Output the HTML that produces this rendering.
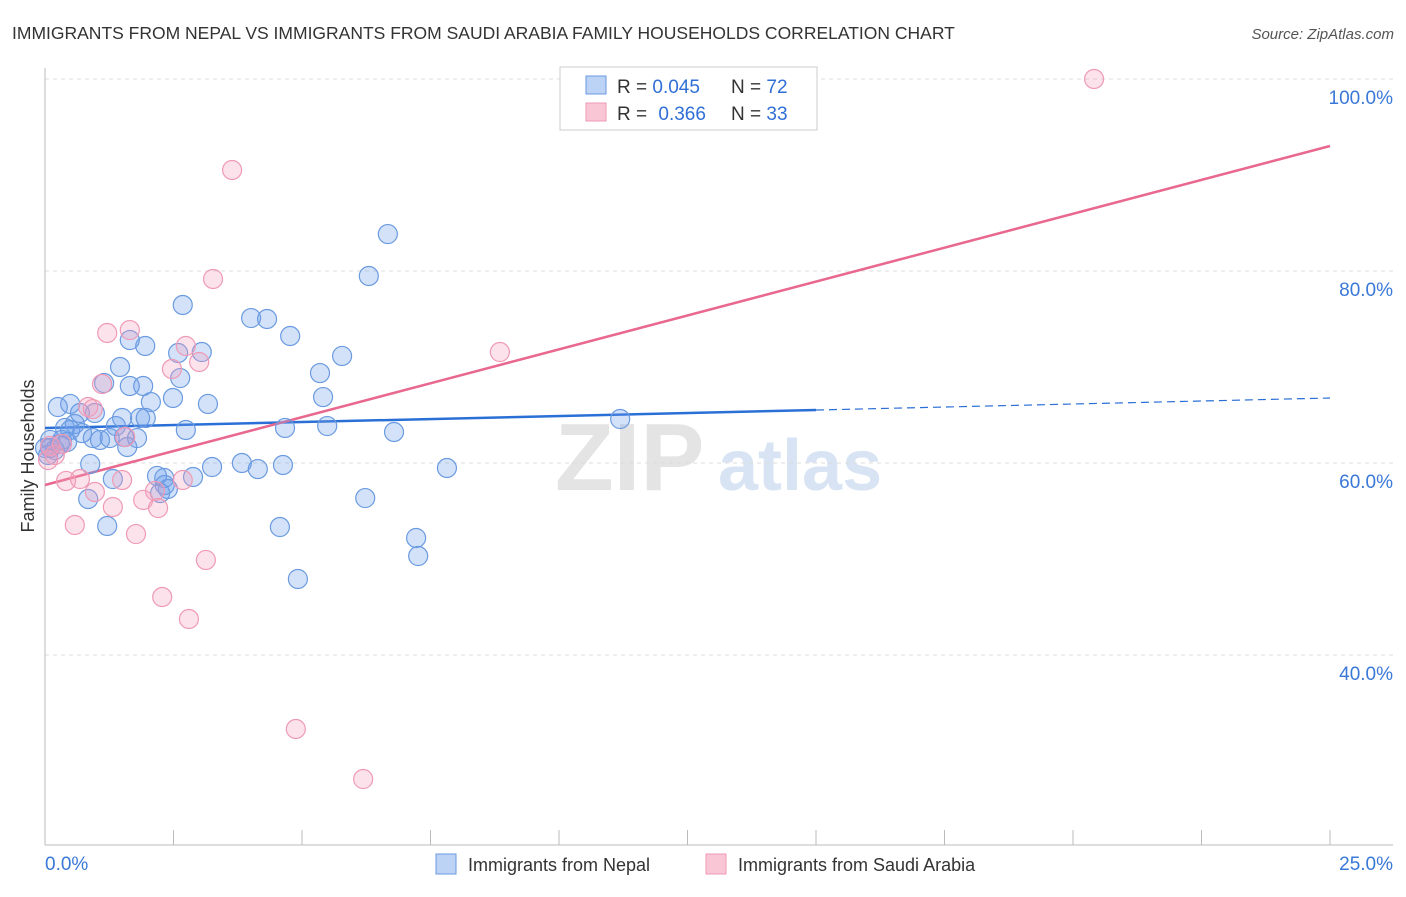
<!DOCTYPE html>
<html><head><meta charset="utf-8"><style>
body{margin:0;background:#fff;font-family:"Liberation Sans",sans-serif;}
svg text{font-family:"Liberation Sans",sans-serif;}
</style></head><body>
<svg id="chart" width="1406" height="892" xmlns="http://www.w3.org/2000/svg">
<text x="12" y="39" font-size="17.5" fill="#333">IMMIGRANTS FROM NEPAL VS IMMIGRANTS FROM SAUDI ARABIA FAMILY HOUSEHOLDS CORRELATION CHART</text>
<text x="1394" y="39" font-size="15" fill="#555" text-anchor="end" font-style="italic">Source: ZipAtlas.com</text>
<text transform="translate(34,456) rotate(-90)" font-size="18" fill="#333" text-anchor="middle">Family Households</text>
<g>
<text x="555" y="490" font-size="96" fill="#e4e4e4" font-family="Liberation Serif" font-weight="bold">ZIP</text>
<text x="718" y="490" font-size="72" fill="#d8e4f4" font-weight="bold">atlas</text>
</g>
<g id="grid"></g><g id="axes"></g><g id="lines"></g><g id="points"></g>
<g>
<rect x="560" y="67" width="257" height="63" fill="#fff" stroke="#ccc"/>
<rect x="586" y="76" width="20" height="18" fill="#bcd3f5" stroke="#6a9ae0"/>
<rect x="586" y="103" width="20" height="18" fill="#f9c6d6" stroke="#ef9ab5"/>
<text x="617" y="93" font-size="19" fill="#333">R = <tspan fill="#2f6fd6">0.045</tspan><tspan x="731">N = </tspan><tspan fill="#2f6fd6">72</tspan></text>
<text x="617" y="120" font-size="19" fill="#333">R = <tspan fill="#2f6fd6" dx="6">0.366</tspan><tspan x="731">N = </tspan><tspan fill="#2f6fd6">33</tspan></text>
</g>
<g>
<rect x="436" y="854" width="20" height="20" fill="#bcd3f5" stroke="#6a9ae0"/>
<text x="468" y="871" font-size="18" fill="#333">Immigrants from Nepal</text>
<rect x="706" y="854" width="20" height="20" fill="#f9c6d6" stroke="#ef9ab5"/>
<text x="738" y="871" font-size="18" fill="#333">Immigrants from Saudi Arabia</text>
</g>
</svg>
<script>
const yTicks=[40,60,80,100];
const yTickLabels=["40.0%","60.0%","80.0%","100.0%"];
const xTickLabels=["0.0%","25.0%"];
const nepalX=[6.67,6.30,2.68,4.01,4.32,4.77,1.95,1.65,2.59,3.05,5.78,1.46,5.35,2.63,1.15,1.65,1.91,5.41,2.49,2.06,3.17,0.25,0.49,0.97,0.68,1.50,1.85,1.96,11.19,0.39,0.58,1.38,0.72,2.74,4.67,5.49,6.79,0.93,1.07,1.26,1.54,1.79,1.60,0.10,0.29,0.19,0,0.43,0.88,3.25,3.83,4.14,4.63,7.82,2.18,2.32,2.88,1.32,2.33,2.39,2.24,0.84,6.23,1.21,4.57,7.22,7.26,4.92,0.10,0.33,0.06,0.49];
const nepalY=[83.85,79.48,76.46,75.10,75.0,73.23,72.19,72.81,71.46,71.56,71.15,70.0,69.37,68.85,68.33,68.02,68.02,66.87,66.77,66.35,66.15,65.83,66.15,65.21,65.21,64.69,64.69,64.69,64.58,63.65,64.06,63.85,63.12,63.44,63.65,63.85,63.23,62.60,62.40,62.60,62.71,62.60,61.67,62.40,61.98,61.35,61.56,62.19,59.9,59.58,60.0,59.37,59.79,59.48,58.65,58.44,58.54,58.33,57.71,57.29,56.87,56.25,56.35,53.44,53.33,52.19,50.31,47.92,61.56,62.40,60.83,63.44];
const saudiX=[20.41,3.64,3.27,1.21,1.65,2.74,3.0,2.47,1.11,0.84,0.93,8.85,1.56,0.33,0.10,0.19,0.06,0.41,0.68,1.50,2.68,0.97,2.14,1.91,2.20,1.32,0.58,1.77,3.13,2.28,2.80,4.88,6.19];
const saudiY=[100,90.52,79.17,73.54,73.85,72.19,70.52,69.79,68.23,65.83,65.62,71.56,62.71,61.98,61.77,60.83,60.31,58.13,58.33,58.23,58.23,56.98,57.08,56.15,55.31,55.42,53.54,52.6,49.9,46.04,43.75,32.29,27.08];
const nepalTrend=[63.64,66.77];
const saudiTrend=[57.71,93.02];
const NS="http://www.w3.org/2000/svg";
const sx=v=>45+v/25*1285;
const sy=v=>79+(100-v)/20*192;
function mk(tag,attrs,parent){const e=document.createElementNS(NS,tag);for(const k in attrs)e.setAttribute(k,attrs[k]);document.getElementById(parent).appendChild(e);return e;}
yTicks.forEach((t,i)=>{
 const g=mk('line',{x1:45,x2:1393,y1:sy(t),y2:sy(t),stroke:'#ddd','stroke-dasharray':'4,4'},'grid');
 
 
 const l=mk('text',{x:1393,y:sy(t)+25,'font-size':19,fill:'#3a78d8','text-anchor':'end'},'grid');
 l.textContent=yTickLabels[i];
 
 
});
mk('line',{x1:45,x2:45,y1:68,y2:845,stroke:'#bbb'},'axes');
mk('line',{x1:45,x2:1393,y1:845,y2:845,stroke:'#bbb'},'axes');
for(let k=0;k<=10;k++){mk('line',{x1:sx(k*2.5),x2:sx(k*2.5),y1:830,y2:845,stroke:'#bbb'},'axes');}
xTickLabels.forEach((t,i)=>{
 const l=mk('text',{x:i?1393:45,y:870,'font-size':19,fill:'#3a78d8','text-anchor':i?'end':'start'},'axes');
 l.textContent=t;
 
 
});
const bl=mk('line',{x1:sx(0),y1:sy(nepalTrend[0]),x2:sx(15),y2:sy(nepalTrend[0]+(nepalTrend[1]-nepalTrend[0])*15/25),stroke:'#2a6fd6','stroke-width':2.5},'lines');


const bd=mk('line',{x1:sx(15),y1:sy(nepalTrend[0]+(nepalTrend[1]-nepalTrend[0])*15/25),x2:sx(25),y2:sy(nepalTrend[1]),stroke:'#2a6fd6','stroke-width':1.2,'stroke-dasharray':'8,5'},'lines');


const pl=mk('line',{x1:sx(0),y1:sy(saudiTrend[0]),x2:sx(25),y2:sy(saudiTrend[1]),stroke:'#e8688f','stroke-width':2.5},'lines');


nepalX.forEach((x,i)=>{
 const c=mk('circle',{cx:sx(x),cy:sy(nepalY[i]),r:9.5,fill:'rgba(110,160,235,0.3)',stroke:'#6a9ae0','stroke-width':1.2},'points');
 
 
});
saudiX.forEach((x,i)=>{
 const c=mk('circle',{cx:sx(x),cy:sy(saudiY[i]),r:9.5,fill:'rgba(245,160,190,0.3)',stroke:'#ef9ab5','stroke-width':1.2},'points');
 
 
});
</script>
</body></html>
